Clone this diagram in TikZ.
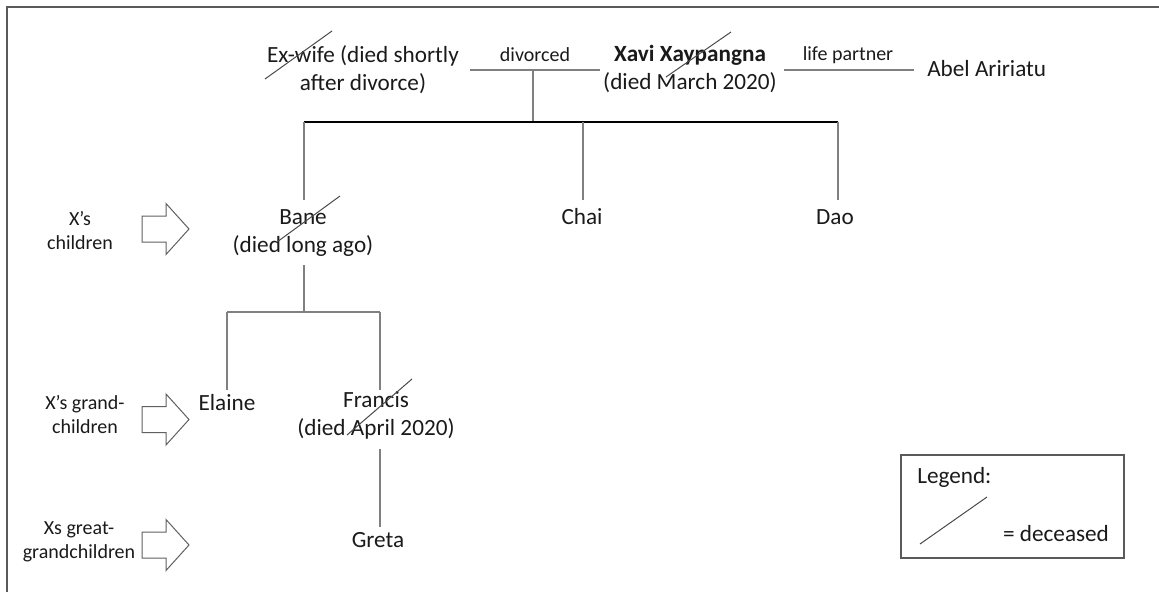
\documentclass[tikz,border=0pt]{standalone}
\usepackage{fontspec}
\setmainfont{Carlito}
\definecolor{txt}{HTML}{1A1A1A}
\definecolor{linegray}{HTML}{808080}
\definecolor{strikegray}{HTML}{4A4A4A}
\definecolor{arrowgray}{HTML}{606060}
\definecolor{framegray}{HTML}{5A5A5A}
\tikzset{
  person/.style={font=\fontsize{17.4}{21}\selectfont, align=center, inner sep=0pt, text=txt},
  smalllbl/.style={font=\fontsize{15}{18}\selectfont, align=center, inner sep=0pt, text=txt},
  conn/.style={draw=linegray, line width=1.1pt},
  barline/.style={draw=black, line width=1.1pt},
  strike/.style={draw=strikegray, line width=0.75pt},
  blockarrow/.style={draw=arrowgray, line width=0.75pt, fill=white},
  frameline/.style={draw=framegray, line width=1.1pt},
  legendbox/.style={draw=framegray, line width=0.9pt},
  blockarr/.pic={
    \draw[blockarrow] (142,-13) -- (166,-13) -- (166,-25.5) -- (189,0) -- (166,25.5) -- (166,13) -- (142,13) -- cycle;
  }
}
\begin{document}
\begin{tikzpicture}[x=0.75pt,y=-0.75pt]
\useasboundingbox (0,0) rectangle (1159,592);
\draw[frameline] (7,592) -- (7,7) -- (1159,7);

% people
\node[person] (exwife) at (363,70) {Ex-wife (died shortly\\after divorce)};
\node[person] (xavi) at (690,69) {\textbf{Xavi Xaypangna}\\(died March 2020)};
\node[person, anchor=west] (abel) at (927,69) {Abel Aririatu};
\node[smalllbl] (divlbl) at (535,55) {divorced};
\node[smalllbl] (lplbl) at (848,55) {life partner};

\node[person] (bane) at (303,233) {Bane\\(died long ago)};
\node[person] (chai) at (582,217) {Chai};
\node[person] (dao) at (835,217) {Dao};
\node[person] (elaine) at (227,403) {Elaine};
\node[person] (francis) at (376,415) {Francis\\(died April 2020)};
\node[person] (greta) at (378,540) {Greta};

% relationship lines
\coordinate (d1) at (470,70);
\coordinate (d2) at (600,70);
\coordinate (fam) at (533,70);
\coordinate (lp1) at (784,70);
\coordinate (lp2) at (914,70);
\draw[conn] (d1) -- (d2);
\draw[conn] (lp1) -- (lp2);

% children bar
\coordinate (barmid) at (533,122);
\coordinate (barL) at (304,122);
\coordinate (barC) at (583,122);
\coordinate (barR) at (838,122);
\coordinate (baneTop) at (304,200);
\coordinate (chaiTop) at (583,200);
\coordinate (daoTop) at (838,200);
\draw[conn] (fam) -- (barmid);
\draw[barline] (barL) -- (barR);
\draw[conn] (barL) -- (baneTop);
\draw[conn] (barC) -- (chaiTop);
\draw[conn] (barR) -- (daoTop);

% grandchildren
\coordinate (baneBot) at (304,265);
\coordinate (gbarM) at (304,312);
\coordinate (gbarL) at (227,312);
\coordinate (gbarR) at (380,312);
\coordinate (elaineTop) at (227,390);
\coordinate (francisTop) at (380,390);
\draw[conn] (baneBot) -- (gbarM);
\draw[conn] (gbarL) -- (gbarR);
\draw[conn] (gbarL) -- (elaineTop);
\draw[conn] (gbarR) -- (francisTop);

% great-grandchildren
\coordinate (francisBot) at (380,449);
\coordinate (gretaTop) at (380,527);
\draw[conn] (francisBot) -- (gretaTop);

% deceased strikes
\draw[strike] (265,79) -- (332,31);
\draw[strike] (666,77) -- (731,32);
\draw[strike] (277,242) -- (340,196);
\draw[strike] (347,435) -- (412,379);

% generation labels and arrows
\node[smalllbl] (gen1) at (80,230.5) {X’s\\children};
\node[smalllbl] (gen2) at (85,415) {X’s grand-\\children};
\node[smalllbl] (gen3) at (79,541.5) {Xs great-\\grandchildren};
\pic at (0,229) {blockarr};
\pic at (0,419.5) {blockarr};
\pic at (0,545) {blockarr};

% legend
\draw[legendbox] (901,455) rectangle (1124,558);
\node[person, anchor=west] (legend) at (917,477) {Legend:};
\draw[strike] (920,544) -- (987,497);
\node[person] (deceased) at (1056,534) {= deceased};
\end{tikzpicture}
\end{document}
